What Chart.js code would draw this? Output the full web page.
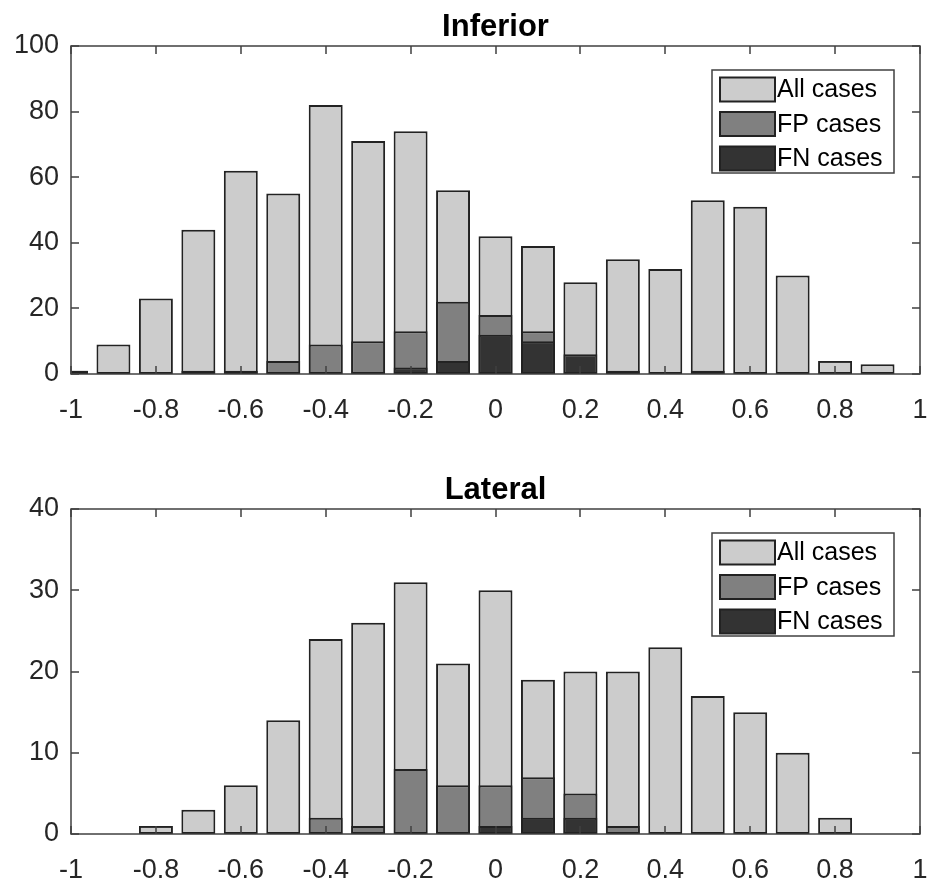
<!DOCTYPE html>
<html>
<head>
<meta charset="utf-8">
<script src="https://cdn.jsdelivr.net/npm/chart.js@4.4.1/dist/chart.umd.min.js"></script>
<style>
  html, body { margin: 0; padding: 0; background: #fff; }
  .panel { position: absolute; left: 0; width: 929px; height: 442px; }
  #top { top: 0; }
  #bottom { top: 442px; }
</style>
</head>
<body>
<div class="panel" id="top"><canvas id="inferiorChart"></canvas></div>
<div class="panel" id="bottom"><canvas id="lateralChart"></canvas></div>
<script>
// bin centres (width 0.1)
const binCenters = [-1, -0.9, -0.8, -0.7, -0.6, -0.5, -0.4, -0.3, -0.2, -0.1, 0, 0.1, 0.2, 0.3, 0.4, 0.5, 0.6, 0.7, 0.8, 0.9];

const inferiorAll = [1, 9, 23, 44, 62, 55, 82, 71, 74, 56, 42, 39, 28, 35, 32, 53, 51, 30, 4, 3];
const inferiorFP  = [0, 0, 0, 0, 0, 4, 9, 10, 13, 22, 18, 13, 0, 0, 0, 0, 0, 0, 0, 0];
const inferiorFN  = [1, 0, 0, 1, 1, 0, 0, 0, 2, 4, 12, 10, 6, 1, 0, 1, 0, 0, 0, 0];

const lateralAll = [0, 0, 1, 3, 6, 14, 24, 26, 31, 21, 30, 19, 20, 20, 23, 17, 15, 10, 2, 0];
const lateralFP  = [0, 0, 0, 0, 0, 0, 2, 1, 8, 6, 6, 7, 5, 1, 0, 0, 0, 0, 0, 0];
const lateralFN  = [0, 0, 0, 0, 0, 0, 0, 0, 0, 0, 1, 2, 2, 0, 0, 0, 0, 0, 0, 0];

const seriesLabels = ['All cases', 'FP cases', 'FN cases'];
const seriesColors = ['#cccccc', '#808080', '#333333'];

const FONT = '"Liberation Sans", Arial, sans-serif';
const AXIS_COLOR = '#404040';

function toPoints(vals) {
    return binCenters.map((c, i) => ({ x: c, y: vals[i] }));
}

// MATLAB-like box, inward ticks, title and legend
const matlabFrame = {
    id: 'matlabFrame',
    afterDatasetsDraw(chart) {
        const { ctx, chartArea: a, scales: { x, y } } = chart;
        const tl = 8;
        ctx.save();
        ctx.strokeStyle = AXIS_COLOR;
        ctx.lineWidth = 1.5;
        ctx.beginPath();
        x.ticks.forEach(t => {
            const px = Math.round(x.getPixelForValue(t.value));
            ctx.moveTo(px, a.bottom); ctx.lineTo(px, a.bottom - tl);
            ctx.moveTo(px, a.top); ctx.lineTo(px, a.top + tl);
        });
        y.ticks.forEach(t => {
            const py = Math.round(y.getPixelForValue(t.value));
            ctx.moveTo(a.left, py); ctx.lineTo(a.left + tl, py);
            ctx.moveTo(a.right, py); ctx.lineTo(a.right - tl, py);
        });
        ctx.stroke();
        ctx.strokeRect(a.left, a.top, a.right - a.left, a.bottom - a.top);

        // title
        const title = chart.options.plugins.figTitle.text;
        ctx.fillStyle = '#000';
        ctx.font = 'bold 31px ' + FONT;
        ctx.textAlign = 'center';
        ctx.textBaseline = 'alphabetic';
        ctx.fillText(title, (a.left + a.right) / 2, a.top - 10);

        // legend
        const lw = 182, lh = 103;
        const lx = a.right - 26 - lw, ly = a.top + 24;
        ctx.fillStyle = '#fff';
        ctx.fillRect(lx, ly, lw, lh);
        ctx.lineWidth = 1.5;
        ctx.strokeStyle = AXIS_COLOR;
        ctx.strokeRect(lx, ly, lw, lh);
        ctx.font = '25px ' + FONT;
        ctx.textAlign = 'left';
        ctx.textBaseline = 'middle';
        chart.data.datasets.forEach((ds, i) => {
            const cy = ly + 19.5 + i * 34.5;
            ctx.fillStyle = ds.backgroundColor;
            ctx.fillRect(lx + 8, cy - 12, 55, 24);
            ctx.lineWidth = 2;
            ctx.strokeStyle = '#222';
            ctx.strokeRect(lx + 8, cy - 12, 55, 24);
            ctx.fillStyle = '#000';
            ctx.fillText(ds.label, lx + 65, cy + 1);
        });
        ctx.restore();
    }
};

function makeChart(id, title, all, fp, fn, yMax, yStep, padTop, xHeight) {
    const series = [all, fp, fn];
    return new Chart(document.getElementById(id), {
        type: 'bar',
        data: {
            datasets: series.map((vals, i) => ({
                label: seriesLabels[i],
                data: toPoints(vals),
                backgroundColor: seriesColors[i],
                order: 3 - i
            }))
        },
        options: {
            responsive: true,
            maintainAspectRatio: false,
            animation: false,
            layout: { padding: { top: padTop, right: 9, left: 0, bottom: 0 } },
            datasets: {
                bar: {
                    grouped: false,
                    categoryPercentage: 1,
                    barPercentage: 0.8,
                    borderColor: '#222',
                    borderWidth: 2,
                    borderSkipped: false
                }
            },
            scales: {
                x: {
                    type: 'linear',
                    min: -1,
                    max: 1,
                    offset: false,
                    grid: { display: false, tickLength: 20 },
                    border: { display: false },
                    ticks: {
                        stepSize: 0.2,
                        padding: 0,
                        color: '#262626',
                        font: { family: FONT, size: 27 },
                        maxRotation: 0,
                        callback: v => String(Math.round(v * 10) / 10)
                    },
                    afterFit: s => { s.height = xHeight; }
                },
                y: {
                    min: 0,
                    max: yMax,
                    grid: { display: false, tickLength: 8 },
                    border: { display: false },
                    ticks: {
                        stepSize: yStep,
                        padding: 4,
                        color: '#262626',
                        font: { family: FONT, size: 27 }
                    },
                    afterFit: s => { s.width = 71; }
                }
            },
            plugins: {
                legend: { display: false },
                tooltip: { enabled: false },
                figTitle: { text: title }
            }
        },
        plugins: [matlabFrame]
    });
}

makeChart('inferiorChart', 'Inferior', inferiorAll, inferiorFP, inferiorFN, 100, 20, 46, 68);
makeChart('lateralChart', 'Lateral', lateralAll, lateralFP, lateralFN, 40, 10, 67, 50);
</script>
</body>
</html>
